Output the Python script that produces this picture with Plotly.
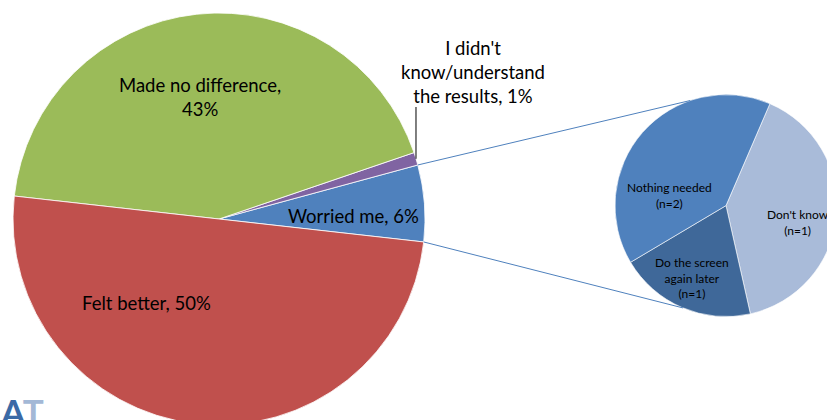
import math
import plotly.graph_objects as go

# ---------------- data ----------------
main_labels = ["Worried me", "I didn't know/understand the results", "Made no difference", "Felt better"]
main_label_lines = ["Worried me", "I didn't<br>know/understand<br>the results", "Made no difference", "Felt better"]
main_label_sep = [", ", ", ", ",<br>", ", "]
main_values = [6, 1, 43, 50]          # percent
main_colors = ["#4F81BD", "#8064A2", "#9BBB59", "#C0504D"]

sub_labels = ["Don't know", "Do the screen again later", "Nothing needed"]
sub_label_lines = ["Don't know", "Do the screen<br>again later", "Nothing needed"]
sub_counts = [1, 1, 2]                # n shown in labels
sub_values = [2, 1, 2]                # slice sizes as drawn
sub_colors = ["#A9BBD9", "#3F6899", "#4F81BD"]

# ---------------- layout geometry (pixels) ----------------
W, H = 840, 430
MAIN_C, MAIN_R, MAIN_START = (219, 219), 206, 96.4
SUB_C, SUB_R, SUB_ROT = (726, 205.6), 111, 23.3
SUB_LINK_ANGLES = (341.2, 202.8)
FONT = "Lato, 'Open Sans', sans-serif"


def px(x):
    return x / W


def py(y):
    return (H - y) / H


def dom(c, r):
    return dict(x=[px(c[0] - r), px(c[0] + r)], y=[py(c[1] + r), py(c[1] - r)])


def on_circle(c, r, ang):
    a = math.radians(ang)
    return c[0] + r * math.sin(a), c[1] - r * math.cos(a)


# slice edges of the main pie (compass degrees, going counterclockwise)
tot = sum(main_values)
edges = [MAIN_START]
for v in main_values:
    edges.append(edges[-1] - 360 * v / tot)
# plotly: for counterclockwise pies the first slice ends at `rotation`
main_rotation = edges[1]

fig = go.Figure()
fig.add_trace(go.Pie(
    labels=main_labels, values=main_values, sort=False,
    direction="counterclockwise", rotation=main_rotation,
    marker=dict(colors=main_colors, line=dict(color="white", width=0.8)),
    textinfo="none", showlegend=False, domain=dom(MAIN_C, MAIN_R),
))
fig.add_trace(go.Pie(
    labels=sub_labels, values=sub_values, sort=False,
    direction="clockwise", rotation=SUB_ROT,
    marker=dict(colors=sub_colors, line=dict(color="white", width=0.6)),
    textinfo="none", showlegend=False, domain=dom(SUB_C, SUB_R),
))

shapes = []
# connectors from "Worried me" slice to the secondary pie
p_top = on_circle(MAIN_C, MAIN_R, edges[1])
p_bot = on_circle(MAIN_C, MAIN_R, edges[0])
s_top = on_circle(SUB_C, SUB_R, SUB_LINK_ANGLES[0])
s_bot = on_circle(SUB_C, SUB_R, SUB_LINK_ANGLES[1])
for a, b in [(p_top, s_top), (p_bot, s_bot)]:
    shapes.append(dict(type="line", xref="paper", yref="paper",
                       x0=px(a[0]), y0=py(a[1]), x1=px(b[0]), y1=py(b[1]),
                       line=dict(color="#4F81BD", width=1)))
# leader line for the 1% slice
mid = (edges[1] + edges[2]) / 2
lp = on_circle(MAIN_C, MAIN_R, mid)
shapes.append(dict(type="line", xref="paper", yref="paper",
                   x0=px(lp[0]), y0=py(lp[1]), x1=px(lp[0]), y1=py(107),
                   line=dict(color="black", width=1)))

annotations = []
main_pos = [(353, 216), (472.5, 71.5), (200, 97), (146, 303)]
for name, sep, v, (x, y) in zip(main_label_lines, main_label_sep, main_values, main_pos):
    annotations.append(dict(text=f"{name}{sep}{v}%", x=px(x), y=py(y), xref="paper", yref="paper",
                            showarrow=False, xanchor="center", yanchor="middle",
                            font=dict(family=FONT, size=18.5, color="black")))
sub_pos = [(798, 222), (692, 278), (669, 195)]
for name, n, (x, y) in zip(sub_label_lines, sub_counts, sub_pos):
    annotations.append(dict(text=f"{name}<br>(n={n})", x=px(x), y=py(y), xref="paper", yref="paper",
                            showarrow=False, xanchor="center", yanchor="middle",
                            font=dict(family=FONT, size=12, color="black")))
# partially visible logo at the bottom left
annotations.append(dict(text="<b><span style='color:#3B6AA6'>A</span><span style='color:#A3B8D6'>T</span></b>",
                        x=px(-2), y=py(388), xref="paper", yref="paper", showarrow=False,
                        xanchor="left", yanchor="top", font=dict(family=FONT, size=35)))

fig.update_layout(
    width=W, height=H, autosize=False,
    margin=dict(l=0, r=0, t=0, b=0),
    paper_bgcolor="white", plot_bgcolor="white",
    shapes=shapes, annotations=annotations,
)

fig.write_html("out.html")
